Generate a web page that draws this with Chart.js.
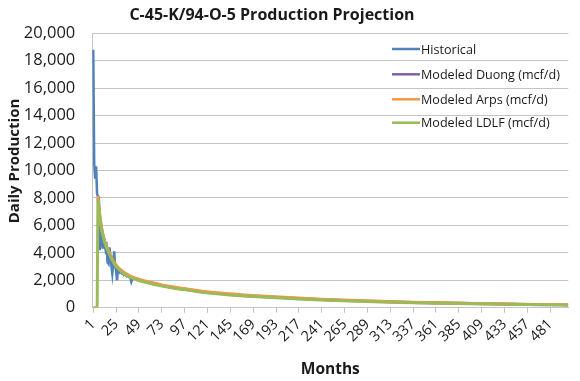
<!DOCTYPE html>
<html><head><meta charset="utf-8">
<script src="https://cdn.jsdelivr.net/npm/chart.js@4"></script>
<style>html,body{margin:0;padding:0;background:#fff}#wrap{width:580px;height:381px;position:relative}</style>
</head><body><div id="wrap"><canvas id="c" width="580" height="381"></canvas></div>
<script>
const chartTitle = 'C-45-K/94-O-5 Production Projection';
const xTitle = 'Months';
const yTitle = 'Daily Production';
const seriesNames = ['Historical', 'Modeled Duong (mcf/d)', 'Modeled Arps (mcf/d)', 'Modeled LDLF (mcf/d)'];
const seriesColors = ['#4F81BD', '#8064A2', '#F79646', '#9BBB59'];
const xTickValues = [1, 25, 49, 73, 97, 121, 145, 169, 193, 217, 241, 265, 289, 313, 337, 361, 385, 409, 433, 457, 481];

const histMonths = [1,2,3,4,5,6,7,8,9,10,11,12,13,14,15,16,17,18,19,20,21,22,23,24,25,26,27,28,29,30,31,32,33,34,35,36,37,38,39,40,41,42,43];
const histValues = [18800,10500,9400,10300,8300,8100,5700,4200,5800,5500,4300,5200,4600,4200,4400,3300,3200,4400,3700,3100,2500,3300,4100,3000,2700,2000,2900,2800,2600,2700,2500,2500,2400,2500,2400,2300,2400,2300,2200,2200,1900,2100,2200];

const ldlfMonths = [1,5,6,7,8,9,10,12,14,16,18,21,24,27,30,36,42,48,60,72,84,96,108,120,144,168,192,216,240,264,288,312,336,360,384,408,432,456,480,500];
const ldlfValues = [0,0,7900,7200,6500,6000,5600,5000,4550,4200,3900,3450,3100,2850,2650,2350,2150,2000,1780,1590,1440,1320,1190,1080,930,820,730,640,560,500,450,400,360,330,300,280,255,235,215,200];

const modelMonths = [6,7,8,9,10,12,14,16,18,21,24,27,30,36,42,48,60,72,84,96,108,120,144,168,192,216,240,264,288,312,336,360,384,408,432,456,480,500];
const arpsValues = [8150,7350,6700,6200,5750,5100,4650,4300,4000,3550,3200,2950,2750,2450,2250,2100,1870,1680,1530,1400,1280,1170,1010,890,790,700,620,555,500,450,405,370,335,305,275,250,225,210];
const duongValues = [7950,7250,6550,6050,5650,5050,4600,4250,3950,3500,3150,2900,2700,2400,2200,2050,1820,1630,1480,1360,1230,1120,970,855,760,670,590,528,475,425,382,350,318,292,265,242,220,205];

const pts = (xs, ys) => xs.map((x, i) => ({x: x, y: ys[i]}));
const FONT = '"Open Sans", "DejaVu Sans", sans-serif';
const TXT = '#1a1a1a';
const GRID = '#C4C4C4';

const overlay = {
  id: 'overlay',
  afterDraw(chart) {
    const ctx = chart.ctx;
    ctx.save();
    ctx.fillStyle = TXT;
    ctx.textAlign = 'center';
    ctx.textBaseline = 'alphabetic';
    ctx.font = 'bold 16px ' + FONT;
    ctx.fillText(chartTitle, 272, 20);
    ctx.translate(18.5, 161);
    ctx.rotate(-Math.PI / 2);
    ctx.font = 'bold 15px ' + FONT;
    ctx.fillText(yTitle, 0, 0);
    ctx.restore();

    ctx.save();
    const rows = [49, 74.3, 99.3, 122.7];
    ctx.font = '12.6px ' + FONT;
    ctx.textAlign = 'left';
    ctx.textBaseline = 'alphabetic';
    chart.data.datasets.forEach((ds, i) => {
      const y = rows[i];
      ctx.strokeStyle = ds.borderColor;
      ctx.lineWidth = 2.5;
      ctx.beginPath();
      ctx.moveTo(392, y);
      ctx.lineTo(420, y);
      ctx.stroke();
      ctx.fillStyle = TXT;
      ctx.fillText(ds.label, 421, y + 4.5);
    });
    ctx.restore();
  }
};

new Chart(document.getElementById('c'), {
  type: 'line',
  data: {
    datasets: [
      {label: seriesNames[0], data: pts(histMonths, histValues), borderColor: seriesColors[0], borderWidth: 2.5, pointRadius: 0, tension: 0, order: 3},
      {label: seriesNames[1], data: pts(modelMonths, duongValues), borderColor: seriesColors[1], borderWidth: 3, pointRadius: 0, cubicInterpolationMode: 'monotone', order: 2},
      {label: seriesNames[2], data: pts(modelMonths, arpsValues), borderColor: seriesColors[2], borderWidth: 3, pointRadius: 0, cubicInterpolationMode: 'monotone', order: 1},
      {label: seriesNames[3], data: pts(ldlfMonths, ldlfValues), borderColor: seriesColors[3], borderWidth: 3, pointRadius: 0, cubicInterpolationMode: 'monotone', order: 0}
    ]
  },
  options: {
    responsive: false,
    animation: false,
    devicePixelRatio: 1,
    layout: {padding: {top: 33.3, right: 11.7, bottom: 0, left: 0}},
    plugins: {legend: {display: false}, title: {display: false}, tooltip: {enabled: false}},
    scales: {
      x: {
        type: 'linear',
        min: 0, max: 500,
        afterBuildTicks: (s) => { s.ticks = xTickValues.map(v => ({value: v})); },
        afterFit: (s) => { s.height = 73.3; },
        grid: {display: true, drawOnChartArea: false, drawTicks: true, tickLength: 5, color: GRID},
        border: {display: true, color: GRID},
        ticks: {autoSkip: false, maxRotation: 45, minRotation: 45, padding: 3, color: TXT, font: {family: FONT, size: 14.5}},
        title: {display: true, text: xTitle, color: TXT, font: {family: FONT, size: 15.5, weight: 'bold'}, padding: {top: 0, bottom: 2}}
      },
      y: {
        min: 0, max: 20000,
        afterFit: (s) => { s.width = 92.3; },
        ticks: {stepSize: 2000, padding: 17, color: TXT, font: {family: FONT, size: 16.5},
          callback: (v) => v.toLocaleString('en-US')},
        grid: {color: GRID, drawTicks: false},
        border: {display: true, color: GRID}
      }
    }
  },
  plugins: [overlay]
});
</script>
</body></html>
